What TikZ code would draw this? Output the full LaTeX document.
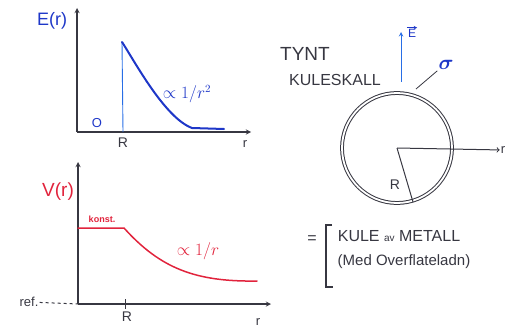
\documentclass[tikz,border=0pt]{standalone}
\usepackage{fontspec}
\usepackage{amsmath}
\setmainfont{Liberation Sans}
\usetikzlibrary{positioning}

\definecolor{penblue}{RGB}{30,55,200}
\definecolor{lightpen}{RGB}{40,110,230}
\definecolor{penred}{RGB}{225,35,60}
\definecolor{pengray}{RGB}{55,55,65}

\begin{document}
\begin{tikzpicture}[x=1pt, y=-1pt]

\tikzset{axis/.style = {draw=pengray, line width=1.3pt, -stealth}}
\tikzset{ecurve/.style = {draw=penblue, line width=2pt, line cap=round}}
\tikzset{vcurve/.style = {draw=penred, line width=1.5pt, line cap=round}}
\tikzset{pen/.style = {text=pengray, font=\fontsize{14}{16}\selectfont, inner sep=1pt}}

\useasboundingbox (0,0) rectangle (506,329);

% E(r) graph
\coordinate (Eo) at (77,132);
\coordinate (Etop) at (77,8);
\coordinate (Eend) at (251,132);
\draw[axis] (Eo) -- (Etop);
\draw[axis] (Eo) -- (Eend);
\node[pen, text=penblue, font=\fontsize{18}{20}\selectfont] (Elab) at (52,21) {E(r)};
\node[pen, font=\fontsize{14}{16}\selectfont] (ER) at (123,143) {R};
\node[pen, text=penblue, font=\fontsize{13}{15}\selectfont] (Ezero) at (97,123) {O};
\node[pen, font=\fontsize{13}{15}\selectfont] (Er) at (245,144) {r};
\coordinate (Ebase) at (123,132);
\coordinate (Epeak) at (122,42);
\draw[lightpen, line width=0.9pt] (Ebase) -- (Epeak);
\draw[ecurve] (Epeak) .. controls (135,62) and (165,118) .. (192,128) -- (224,129);
\node[pen, text=penblue, font=\fontsize{16}{18}\selectfont] (Eprop) at (187,94) {$\propto 1/r^{2}$};

% V(r) graph
\coordinate (Vo) at (78,304);
\coordinate (Vtop) at (78,162);
\coordinate (Vend) at (271,304);
\draw[axis] (Vo) -- (Vtop);
\draw[axis] (Vo) -- (Vend);
\node[pen, text=penred, font=\fontsize{19}{21}\selectfont] (Vlab) at (58,192) {V(r)};
\node[pen, text=penred, font=\fontsize{9}{10}\selectfont\bfseries] (konst) at (102,219) {konst.};
\node[pen, font=\fontsize{13}{15}\selectfont] (ref) at (29,302) {ref.};
\draw[pengray, dashed, line width=1pt] (ref) -- (Vo);
\coordinate (VRa) at (125,299);
\coordinate (VRb) at (125,309);
\draw[pengray, line width=1pt] (VRa) -- (VRb);
\node[pen, font=\fontsize{14}{16}\selectfont] (VR) at (127,317) {R};
\node[pen, font=\fontsize{13}{15}\selectfont] (Vr) at (258,322) {r};
\coordinate (Vleft) at (78,228);
\coordinate (Vknee) at (124,228);
\draw[vcurve] (Vleft) -- (Vknee) .. controls (160,268) and (195,282) .. (257,281);
\node[pen, text=penred, font=\fontsize{17}{19}\selectfont] (Vprop) at (198,251) {$\propto 1/r$};

% shell
\coordinate (C) at (397,148);
\draw[pengray, line width=1pt, double=white, double distance=1.8pt] (C) circle[radius=55pt];
\coordinate (Rend) at (413,202);
\draw[pengray, line width=1pt] (C) -- (Rend);
\node[pen, font=\fontsize{14}{16}\selectfont] (SR) at (395,185) {R};
\node[pen, font=\fontsize{13}{15}\selectfont] (Sr) at (503,150) {r};
\draw[pengray, line width=1pt, ->] (C) -- (Sr);
\node[pen, font=\fontsize{19}{21}\selectfont] (tynt) at (305,54) {TYNT};
\node[pen, font=\fontsize{16}{18}\selectfont] (kule) at (335,80) {KULESKALL};
\coordinate (Efoot) at (401,82);
\coordinate (Ehead) at (401,32);
\draw[lightpen, line width=1pt, -stealth] (Efoot) -- (Ehead);
\node[pen, text=penblue, font=\fontsize{12}{14}\selectfont] (Evec) at (412,33) {E};
\draw[penblue, line width=0.6pt, -stealth] (Evec.north west) -- (Evec.north east);
\node[pen, text=penblue, font=\fontsize{22}{24}\selectfont] (sigma) at (446,65) {$\boldsymbol{\sigma}$};
\coordinate (sfoot) at (416,89);
\draw[pengray, line width=0.8pt] (sfoot) -- (sigma.south west);

% metal sphere
\node[pen, font=\fontsize{16}{18}\selectfont] (eq) at (312,240) {=};
\node[pen, font=\fontsize{16}{18}\selectfont] (metal) at (399,236) {KULE {\fontsize{10}{12}\selectfont av} METALL};
\node[pen, font=\fontsize{15}{17}\selectfont] (surf) at (404,262) {(Med Overflateladn)};
\coordinate (b1) at (332,225);
\coordinate (b2) at (326,225);
\coordinate (b3) at (326,287);
\coordinate (b4) at (333,287);
\draw[pengray, line width=1.1pt] (b1) -- (b2) -- (b3) -- (b4);

\end{tikzpicture}
\end{document}
